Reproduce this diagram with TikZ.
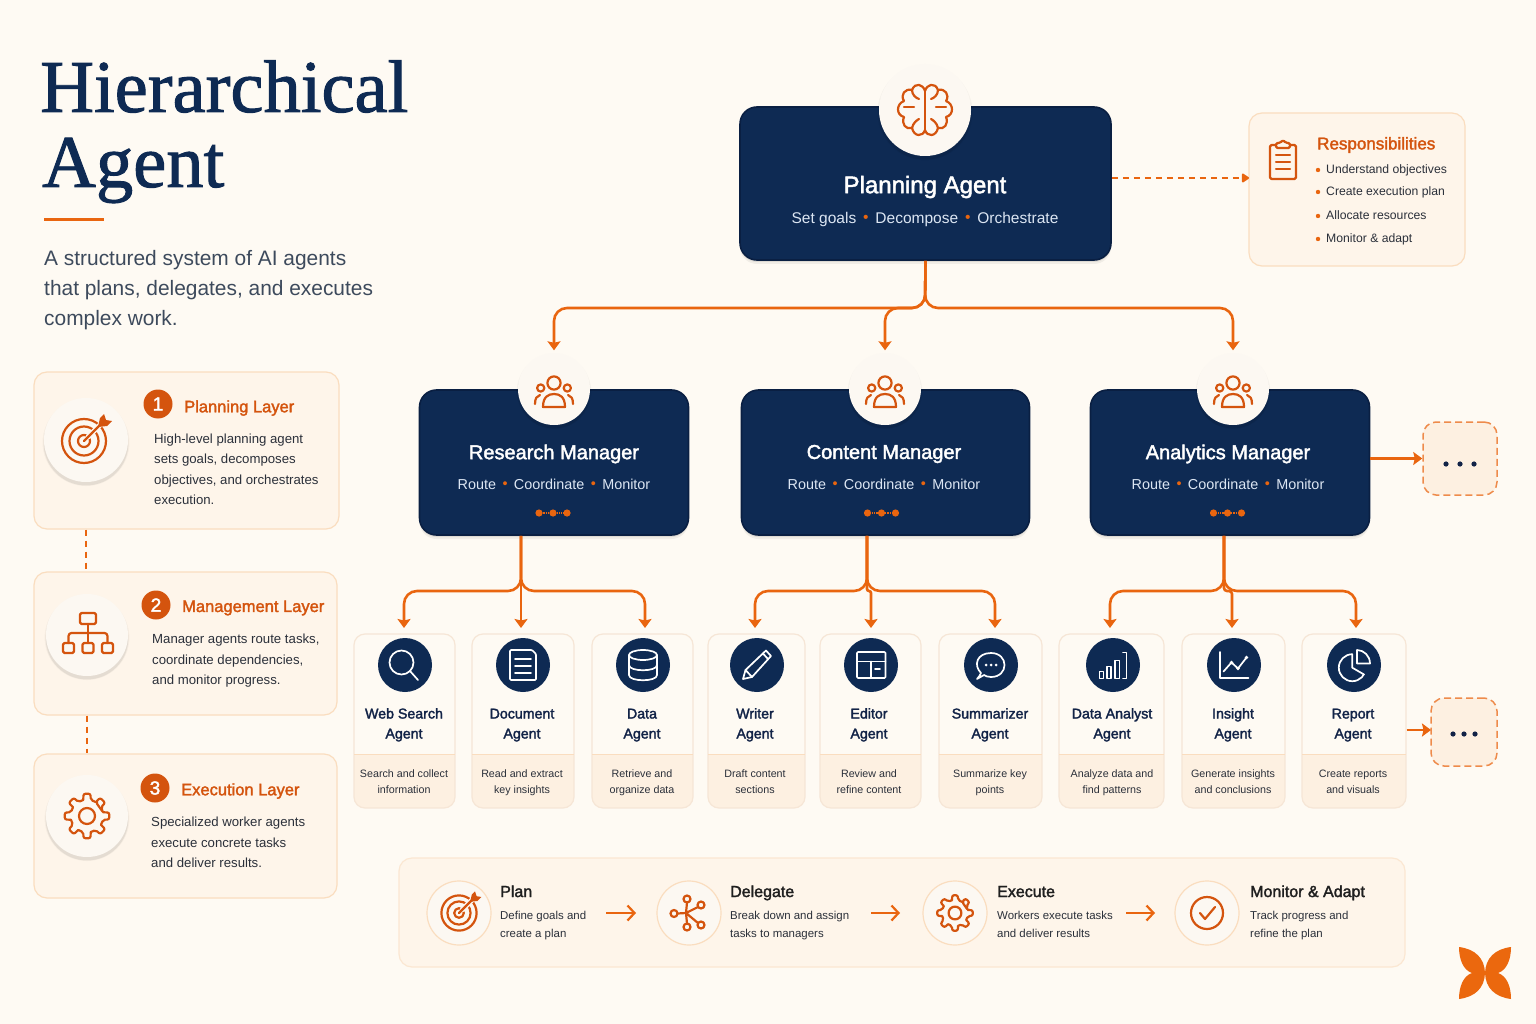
\documentclass[tikz,border=0pt]{standalone}
\usepackage{fontspec}
\setmainfont{Liberation Sans}
\newfontfamily\medfont[FakeBold=2]{Liberation Sans}
\newfontfamily\titlefont[FakeBold=1.3]{Liberation Serif}
\usetikzlibrary{arrows.meta, positioning, shadows, calc}
\newcommand{\fsz}[2]{\fontsize{#1}{#2}\selectfont}
\newcommand{\sep}{\,{\color{accent}\raisebox{.12ex}{•}}\,}

\definecolor{paper}{HTML}{FEFAF3}
\definecolor{navy}{HTML}{0E2A53}
\definecolor{navyedge}{HTML}{0A1F42}
\definecolor{accent}{HTML}{E9650F}
\definecolor{accentdark}{HTML}{D4540E}
\definecolor{cardfill}{HTML}{FEF5EA}
\definecolor{tint}{HTML}{FDF0E1}
\definecolor{cardline}{HTML}{FADDBF}
\definecolor{workerline}{HTML}{F6E6D6}
\definecolor{disc}{HTML}{FCF8F2}
\definecolor{ink}{HTML}{2B303A}
\definecolor{slate}{HTML}{3D4A5C}
\definecolor{titleink}{HTML}{122347}
\definecolor{pale}{HTML}{DCE6F3}

\tikzset{
  softshadow/.style={
    general shadow={fill=black,opacity=.03,shadow yshift=-2.5pt,shadow scale=1.035},
    general shadow={fill=black,opacity=.07,shadow yshift=-3pt,shadow scale=1.01}},
  boxshadow/.style={
    general shadow={fill=black,opacity=.05,shadow yshift=-4pt},
    general shadow={fill=black,opacity=.08,shadow yshift=-2pt}},
  link/.style={draw=accent,line width=2.6pt,rounded corners=13pt,-{Stealth[length=9pt,width=13pt,inset=1.5pt]}},
  dashlink/.style={draw=accent,line width=2.4pt,dash pattern=on 6pt off 5pt},
  flowarrow/.style={draw=accent,line width=2.2pt,-{Straight Barb[length=7pt,width=15pt]}},
  layercard/.style={draw=cardline,fill=cardfill,line width=1.2pt,rounded corners=13pt},
  bigdisc/.style={circle,fill=disc,inner sep=0pt,softshadow},
  badge/.style={circle,fill=accentdark,text=white,inner sep=0pt,minimum size=29pt,font=\medfont\fsz{19}{19}},
  layertitle/.style={anchor=west,text=accentdark,inner sep=0pt,font=\medfont\fsz{16.5}{20}},
  layertext/.style={anchor=west,align=left,text=ink,inner sep=0pt,font=\fsz{13.2}{20.4}},
  agentbox/.style={draw=navyedge,fill=navy,line width=1.6pt,rounded corners=17pt,boxshadow},
  agenttitle/.style={text=white,inner sep=0pt,font=\medfont\fsz{20}{24}},
  agentsub/.style={text=pale,inner sep=0pt,font=\fsz{14.4}{18}},
  workercard/.style={draw=workerline,line width=1.2pt,rounded corners=11pt,minimum height=174pt,inner sep=0pt},
  workerdisc/.style={circle,fill=navy,inner sep=0pt,minimum size=54pt},
  workername/.style={align=center,text=titleink,inner sep=0pt,font=\medfont\fsz{14.2}{20}},
  workerdesc/.style={align=center,text=ink,inner sep=0pt,font=\fsz{10.7}{16}},
  moreblock/.style={draw=accent!75,fill=tint,line width=1.5pt,dash pattern=on 7pt off 4pt,rounded corners=13pt,inner sep=0pt},
  flowdisc/.style={circle,draw=cardline,fill=disc,line width=1.2pt,inner sep=0pt,minimum size=64pt},
  flowtitle/.style={anchor=west,text=black!88,inner sep=0pt,font=\medfont\fsz{16}{20}},
  flowtext/.style={anchor=west,align=left,text=ink,inner sep=0pt,font=\fsz{11.45}{18}},
  orangeicon/.style={color=accentdark,line width=2.2pt,line cap=round,line join=round},
  whiteicon/.style={color=white,line width=1.7pt,line cap=round,line join=round},
  icontarget/.pic={
    \draw (0,0) circle (22) (0,0) circle (14.5) (0,0) circle (6);
    \draw[color=disc,line width=5pt] (4,-4) -- (24,-24);
    \draw (0,0) -- (17,-17);
    \fill (14,-14) -- (16,-23) -- (20,-27) -- (22,-21) -- (28,-20) -- (23,-15) -- cycle;
  },
  iconbrain/.pic={
    \foreach \m in {1,-1}{
      \begin{scope}[xscale=\m]
        \draw (0,-19) .. controls (-2,-26) and (-10,-28) .. (-13,-20) .. controls (-20,-22) and (-25,-15) .. (-21,-9)
          .. controls (-29,-6) and (-29,5) .. (-21,7) .. controls (-24,14) and (-19,20) .. (-13,18)
          .. controls (-11,27) and (-2,27) .. (0,20);
        \draw (-21,-3) -- (-11,-3);
        \draw (-13,-20) .. controls (-13,-15) and (-9,-12) .. (-6,-11);
        \draw (-13,18) .. controls (-12,13) and (-8,10) .. (-6,9);
      \end{scope}}
    \draw (0,-19) -- (0,20);
  },
  iconpeople/.pic={
    \draw (0,-8) circle (6.6) (-13.3,-3) circle (3.6) (13.3,-3) circle (3.6);
    \draw (-11,16) .. controls (-11,6) and (-6,3) .. (0,3) .. controls (6,3) and (11,6) .. (11,16) -- cycle;
    \draw (-19,13) .. controls (-19,7) and (-17,5) .. (-14,4);
    \draw (19,13) .. controls (19,7) and (17,5) .. (14,4);
  },
  icontree/.pic={
    \draw[rounded corners=1.5pt] (-8,-22) rectangle (8,-11);
    \draw[rounded corners=1.5pt] (-25,8) rectangle (-14,18) (-5.5,8) rectangle (5.5,18) (14,8) rectangle (25,18);
    \draw (0,-11) -- (0,8);
    \draw[rounded corners=3pt] (-19.5,8) -- (-19.5,-2) -- (19.5,-2) -- (19.5,8);
  },
  icongear/.pic={
    \draw[rounded corners=2pt] \foreach \a in {0,45,...,315}{ (\a-13:16.5) -- (\a-9:22.5) -- (\a+9:22.5) -- (\a+13:16.5) -- (\a+32:16.5) } -- cycle;
    \draw (0,0) circle (8);
  },
  iconsearch/.pic={
    \draw (-3.5,-2.5) circle (12);
    \draw (5,6) -- (13,15);
  },
  icondoc/.pic={
    \draw[rounded corners=1pt] (-13,-15) -- (9,-15) -- (13,-11) -- (13,15) -- (-13,15) -- cycle;
    \draw (-8,-6) -- (8,-6) (-8,1) -- (8,1) (-8,8) -- (8,8);
  },
  icondata/.pic={
    \draw (0,-10) ellipse (14 and 5);
    \draw (-14,-10) -- (-14,10) .. controls (-14,17) and (14,17) .. (14,10) -- (14,-10);
    \draw (-14,0) .. controls (-14,7) and (14,7) .. (14,0);
  },
  iconpencil/.pic={
    \draw (-14,14) -- (-11.5,5) -- (9,-14.5) -- (14,-9) -- (-5,12) -- cycle;
    \draw (-11.5,5) -- (-5,12) (6,-11.5) -- (11,-6);
  },
  iconlayout/.pic={
    \draw[rounded corners=1pt] (-14,-13) rectangle (14.5,13);
    \draw (-14,-3.5) -- (14.5,-3.5) (0,-3.5) -- (0,13) (4,4) -- (9,4);
  },
  iconchat/.pic={
    \draw (-10,8) .. controls (-18,0) and (-14,-12) .. (0,-12) .. controls (18,-12) and (18,12) .. (0,12)
      .. controls (-3,12) and (-6,11) .. (-7,10) -- (-14,14) .. controls (-12,12) and (-11,10) .. (-10,8) -- cycle;
    \fill (-5,0) circle (1.5) (0,0) circle (1.5) (5,0) circle (1.5);
  },
  iconbars/.pic={
    \draw[line width=1.2pt] (-13.5,13.5) rectangle (-9.5,6.5) (-6,13.5) rectangle (-2,1.5) (2,13.5) rectangle (6.5,-4.5);
    \draw[line width=1.6pt] (10,-12.5) -- (13.5,-12.5) -- (13.5,13.5) -- (10,13.5);
  },
  iconchart/.pic={
    \draw (-14,-13) -- (-14,13) -- (14.5,13);
    \draw (-10.5,6.5) -- (-2.5,-2.5) -- (4,3.5) -- (12.5,-7.5);
    \fill (-2.5,-2.5) circle (1.8) (4,3.5) circle (1.8) (12.5,-7.5) circle (1.8);
  },
  iconpie/.pic={
    \draw (-1.7,2.7) circle (13.5);
    \fill[navy] (-1.7,2.7) -- (-1.7,-13) -- (16,-13) -- (16,12) -- cycle;
    \draw (-1.7,-10.8) -- (-1.7,2.7) -- (10,9.5);
    \draw (3,-1.5) -- (3,-15) .. controls (10,-15) and (16,-9) .. (16,-1.5) -- cycle;
  },
  iconhub/.pic={
    \draw (-3,0) -- (-2,-10.5) (-3,0) -- (9,-6) (-3,0) -- (-11.5,.5) (-3,0) -- (9,10) (-3,0) -- (-2,10.5);
    \draw (-2,-14) circle (3.5) (12,-8) circle (3.5) (-15,.5) circle (3.5) (12,12) circle (3.5) (-2,14) circle (3.5);
  },
  iconcheck/.pic={
    \draw (0,0) circle (16);
    \draw (-7,0) -- (-2,6) -- (8,-6);
  }
}

\begin{document}
\begin{tikzpicture}[x=1pt,y=-1pt]
  \fill[paper] (0,0) rectangle (1536,1024);
  \useasboundingbox (0,0) rectangle (1536,1024);

  % heading
  \node[anchor=base west,inner sep=0pt,text=navy,font=\titlefont\fsz{74.5}{74}] (head1) at (40,112) {Hierarchical};
  \node[anchor=base west,inner sep=0pt,text=navy,font=\titlefont\fsz{74.5}{74}] (head2) at (42,187) {Agent};
  \coordinate (rulea) at (44,220);
  \coordinate (ruleb) at (104,220);
  \draw[draw=accent,line width=3pt] (rulea) -- (ruleb);
  \node[anchor=west,align=left,inner sep=0pt,text=slate,font=\fsz{20.9}{30}] (intro) at (44,289)
    {\strut A structured system of AI agents\\\strut that plans, delegates, and executes\\\strut complex work.};

  % layers
  \node[layercard,minimum width=305pt,minimum height=157pt] (layer1) at (186.5,450.5) {};
  \node[layercard,minimum width=303pt,minimum height=143pt] (layer2) at (185.5,643.5) {};
  \node[layercard,minimum width=303pt,minimum height=144pt] (layer3) at (185.5,826) {};
  \node[bigdisc,minimum size=84pt] (ring1) at (86,440) {};
  \node[bigdisc,minimum size=82pt] (ring2) at (87,635) {};
  \node[bigdisc,minimum size=82pt] (ring3) at (87,816) {};
  \pic[orangeicon] at (84,441) {icontarget};
  \pic[orangeicon] at (88,635) {icontree};
  \pic[orangeicon] at (87,816) {icongear};
  \draw[dashlink] (ring1 |- layer1.south) -- (ring1 |- layer2.north);
  \draw[dashlink] (ring2 |- layer2.south) -- (ring2 |- layer3.north);
  \node[badge] (badge1) at (158,404) {1};
  \node[badge] (badge2) at (156,605) {2};
  \node[badge] (badge3) at (155,788) {3};
  \node[layertitle] (ltitle1) at (184,408) {Planning Layer};
  \node[layertitle] (ltitle2) at (182,608) {Management Layer};
  \node[layertitle] (ltitle3) at (181,791) {Execution Layer};
  \node[layertext] (ltext1) at (154,470) {\strut High-level planning agent\\\strut sets goals, decomposes\\\strut objectives, and orchestrates\\\strut execution.};
  \node[layertext] (ltext2) at (152,660) {\strut Manager agents route tasks,\\\strut coordinate dependencies,\\\strut and monitor progress.};
  \node[layertext] (ltext3) at (151,843) {\strut Specialized worker agents\\\strut execute concrete tasks\\\strut and deliver results.};

  % planning agent
  \node[agentbox,minimum width=371pt,minimum height=153pt] (planning) at (925.5,183.5) {};
  \node[bigdisc,minimum size=92pt] (picon) at (925,110) {};
  \pic[orangeicon] at (925,110) {iconbrain};
  \node[agenttitle,font=\medfont\fsz{24}{28}] (ptitle) at (925,187) {Planning Agent};
  \node[agentsub,font=\fsz{15.5}{20}] (psub) at (925,219) {Set goals \sep{} Decompose \sep{} Orchestrate};

  % responsibilities
  \node[layercard,minimum width=216pt,minimum height=153pt] (resp) at (1357,189.5) {};
  \coordinate (respin) at (1249,178);
  \draw[dashlink,-{Stealth[length=8pt,width=10pt,inset=0pt,round]}] (planning.east |- respin) -- (respin);
  \draw[orangeicon,rounded corners=1.5pt] (1276,145) -- (1270,145) -- (1270,179) -- (1296,179) -- (1296,145) -- (1290,145);
  \draw[orangeicon,rounded corners=1.5pt] (1276,148) -- (1276,143) -- (1280,143) -- (1283,140) -- (1286,143) -- (1290,143) -- (1290,148) -- cycle;
  \draw[orangeicon] (1276,155) -- (1290,155) (1276,162) -- (1290,162) (1276,169) -- (1290,169);
  \node[layertitle,font=\medfont\fsz{17}{20}] (rtitle) at (1317,145) {Responsibilities};
  \foreach \i/\y/\t in {1/170/Understand objectives,2/192/Create execution plan,3/216/Allocate resources,4/239/Monitor \& adapt}{
    \node[anchor=west,inner sep=0pt,text=ink,font=\fsz{12.2}{16}] (ritem\i) at (1326,\y) {\strut\t};
    \fill[accent] (1318,\y) circle (2.2);
  }

  % managers
  \foreach \name/\cx/\w/\ix/\tx/\dotx/\title in {
    research/554/269/554/554/553/Research Manager,
    content/885.5/288/885/884/881.5/Content Manager,
    analytics/1230/279/1233/1228/1227.5/Analytics Manager}{
    \node[agentbox,minimum width=\w pt,minimum height=145pt] (\name) at (\cx,462.5) {};
    \node[bigdisc,minimum size=72pt] (\name icon) at (\ix,389) {};
    \pic[orangeicon] at (\ix,391) {iconpeople};
    \node[agenttitle] (\name title) at (\tx,454) {\title};
    \node[agentsub] (\name sub) at (\tx,484.5) {Route \sep{} Coordinate \sep{} Monitor};
    \draw[draw=accent,line width=1.2pt,densely dotted] (\dotx-14,513) -- (\dotx+14,513);
    \fill[accent] (\dotx-14,513) circle (3.6) (\dotx,513) circle (3.6) (\dotx+14,513) circle (3.6);
  }
  \coordinate (busa) at (925,308);
  \foreach \t in {research,content,analytics}
    \draw[link,shorten >=2.5pt] (planning.south) -- (busa) -| (\t icon.north);

  % workers
  \foreach \name/\cx/\w/\ix/\tx/\tipx/\ic/\one/\two/\dsca/\dscb in {
    web/404.5/101/405/404/404/iconsearch/Web Search/Agent/Search and collect/information,
    doc/523/102/523/522/521/icondoc/Document/Agent/Read and extract/key insights,
    data/642.5/101/643/642/645/icondata/Data/Agent/Retrieve and/organize data,
    writer/756.5/97/757/755/755/iconpencil/Writer/Agent/Draft content/sections,
    editor/870.5/101/871/869/871/iconlayout/Editor/Agent/Review and/refine content,
    summ/990.5/103/991/990/995/iconchat/Summarizer/Agent/Summarize key/points,
    analyst/1111.5/105/1113/1112/1110/iconbars/Data Analyst/Agent/Analyze data and/find patterns,
    insight/1233.5/103/1234/1233/1232/iconchart/Insight/Agent/Generate insights/and conclusions,
    report/1354/104/1354/1353/1356/iconpie/Report/Agent/Create reports/and visuals}{
    \begin{scope}
      \clip[rounded corners=11pt] (\cx-\w/2,634) rectangle (\cx+\w/2,808);
      \fill[tint] (\cx-\w/2,754) rectangle (\cx+\w/2,808);
    \end{scope}
    \node[workercard,minimum width=\w pt] (\name) at (\cx,721) {};
    \draw[draw=cardline,line width=.8pt] (\cx-\w/2,754) -- (\cx+\w/2,754);
    \node[workerdisc] (\name icon) at (\ix,665) {};
    \pic[whiteicon] at (\ix,665) {\ic};
    \node[workername] (\name label) at (\tx,724.5) {\strut\one\\\strut\two};
    \node[workerdesc] (\name desc) at (\tx,782) {\strut\dsca\\\strut\dscb};
    \coordinate (\name tip) at (\tipx,628);
  }
  \coordinate (busr) at (521,591);
  \coordinate (busc) at (867,591);
  \coordinate (busn) at (1224,591);
  \foreach \t in {web,data}
    \draw[link] (research.south -| busr) -- (busr) -| (\t tip);
  \draw[link] (research.south -| busr) -- (doctip);
  \foreach \t in {writer,summ}
    \draw[link] (content.south -| busc) -- (busc) -| (\t tip);
  \draw[link,rounded corners=2pt] (content.south -| busc) -- (busc) -| (editortip);
  \foreach \t in {analyst,report}
    \draw[link] (analytics.south -| busn) -- (busn) -| (\t tip);
  \draw[link,rounded corners=3pt] (analytics.south -| busn) -- (busn) -| (insighttip);

  % more blocks
  \node[moreblock,minimum width=74pt,minimum height=73pt] (morea) at (1460,458.5) {};
  \node[moreblock,minimum width=66pt,minimum height=68pt] (moreb) at (1464,732) {};
  \draw[link,line width=2.4pt,rounded corners=0pt] (analytics.east |- morea) -- (morea.west);
  \coordinate (morein) at (1431,730);
  \draw[link,line width=2.4pt,rounded corners=0pt] (report.east |- morein) -- (morein);
  \fill[titleink] (1446,464) circle (2.6) (1460,464) circle (2.6) (1474,464) circle (2.6);
  \fill[titleink] (1453,734) circle (2.6) (1464,734) circle (2.6) (1475,734) circle (2.6);

  % process strip
  \node[layercard,draw=cardline!70,minimum width=1006pt,minimum height=109pt] (strip) at (902,912.5) {};
  \foreach \name/\x/\tx/\ic/\sc/\title/\dsca/\dscb in {
    plan/459/500/icontarget/.8/Plan/Define goals and/create a plan,
    deleg/689/730/iconhub/1/Delegate/Break down and assign/tasks to managers,
    exec/955/997/icongear/.8/Execute/Workers execute tasks/and deliver results,
    monitor/1207/1250/iconcheck/1/Monitor \& Adapt/Track progress and/refine the plan}{
    \node[flowdisc] (\name) at (\x,913) {};
    \pic[orangeicon,scale=\sc] at (\x,913) {\ic};
    \node[flowtitle] (\name title) at (\tx,893) {\strut\title};
    \node[flowtext] (\name text) at (\tx,925) {\strut\dsca\\\strut\dscb};
  }
  \foreach \i/\xa/\xb in {1/606/636,2/871/900,3/1126/1155}{
    \coordinate (stepa\i) at (\xa,913);
    \coordinate (stepb\i) at (\xb,913);
    \draw[flowarrow] (stepa\i) -- (stepb\i);
  }

  % logo
  \foreach \sx in {1,-1}
    \foreach \sy in {1,-1}
      \fill[accent!90!orange,shift={(1485,973)},xscale=\sx,yscale=\sy] (-26,-26) .. controls (-10,-24) and (-.5,-15) .. (0,0) -- (-13,0) .. controls (-22,-3) and (-26,-14) .. cycle;
\end{tikzpicture}
\end{document}
